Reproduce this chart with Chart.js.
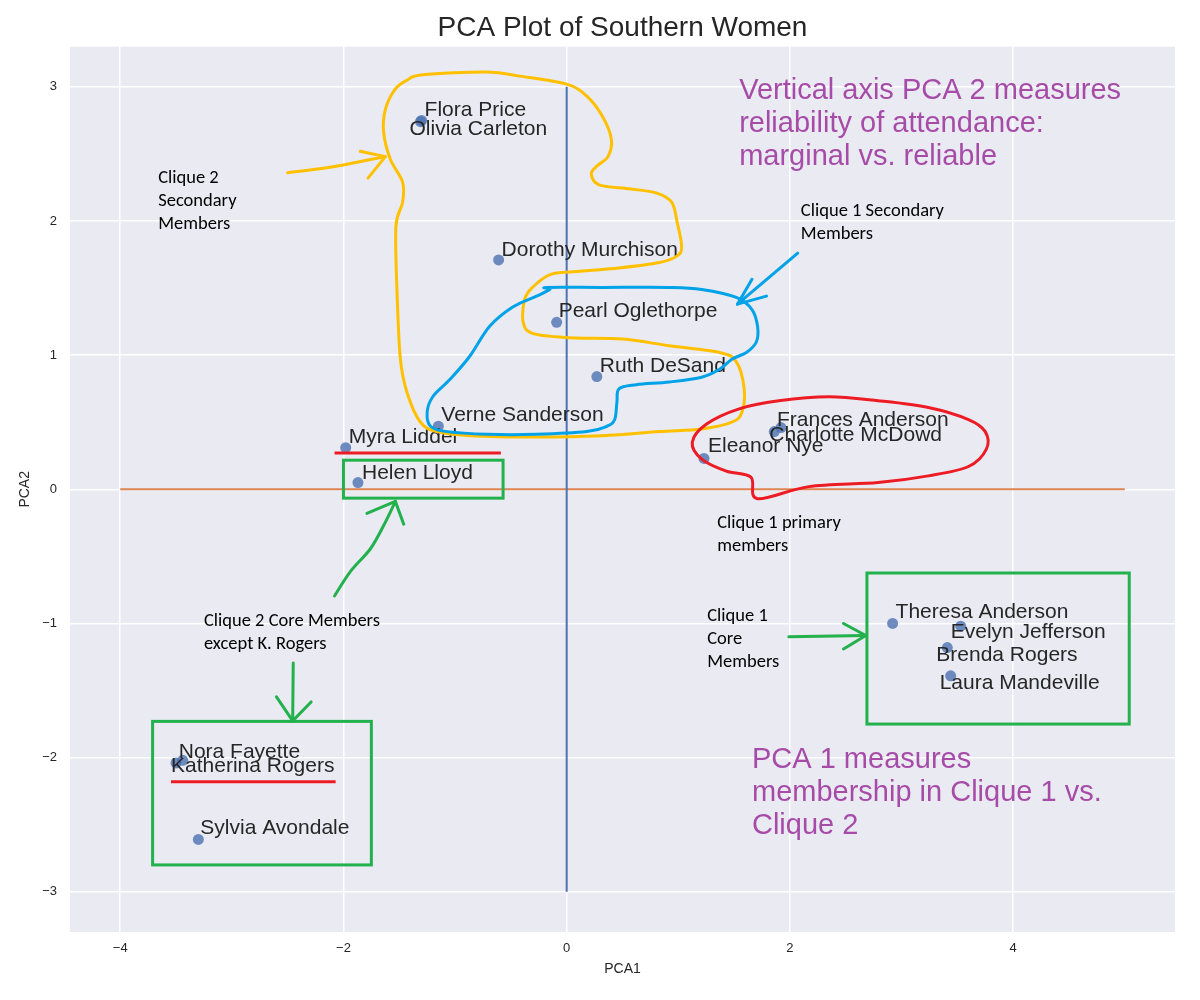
<!DOCTYPE html>
<html><head><meta charset="utf-8">
<script src="https://cdn.jsdelivr.net/npm/chart.js@4.4.1/dist/chart.umd.min.js"></script>
<style>html,body{margin:0;padding:0;background:#fff}</style>
</head><body>
<canvas id="c" width="1200" height="1000"></canvas>
<script>
// ---- data ----
const names = ["Evelyn Jefferson","Laura Mandeville","Theresa Anderson","Brenda Rogers","Charlotte McDowd","Frances Anderson","Eleanor Nye","Pearl Oglethorpe","Ruth DeSand","Verne Sanderson","Myra Liddel","Katherina Rogers","Sylvia Avondale","Nora Fayette","Helen Lloyd","Dorothy Murchison","Olivia Carleton","Flora Price"];
const pca1 = [3.53, 3.44, 2.92, 3.41, 1.86, 1.92, 1.23, -0.09, 0.27, -1.15, -1.98, -3.50, -3.30, -3.44, -1.87, -0.61, -1.31, -1.30];
const pca2 = [-1.02, -1.39, -1.00, -1.18, 0.43, 0.46, 0.23, 1.245, 0.84, 0.47, 0.31, -2.04, -2.61, -2.02, 0.05, 1.71, 2.74, 2.75];
// label nudges (px) as placed in the original figure
const labelDx = [-10, -11, 3, -11, -5, -4, 4, 2, 3, 3, 3, -5, 2, -4, 4, 3, -11, 3];
const labelDy = [12, 13, -5, 13, 9, -2, -6, -5, -5, -5, -5, 9, -5, -2, -4, -4, 13, -4];
const xTicks = [-4, -2, 0, 2, 4];
const yTicks = [-3, -2, -1, 0, 1, 2, 3];
const vLineX = [0, 0], vLineY = [-3, 3];
const hLineX = [-4, 5], hLineY = [0, 0];

// ---- hand-drawn annotations (data units) ----
const yellowLoop = [[-1.29,3.09],[-0.71,3.11],[-0.42,3.08],[0,3.02],[0.18,2.93],[0.32,2.78],[0.40,2.61],[0.37,2.48],[0.27,2.41],[0.22,2.35],[0.29,2.27],[0.56,2.24],[0.80,2.21],[0.94,2.14],[0.99,1.99],[1.03,1.81],[0.99,1.74],[0.83,1.69],[0.47,1.65],[0.03,1.62],[-0.15,1.60],[-0.30,1.51],[-0.375,1.42],[-0.39,1.245],[-0.30,1.16],[0.03,1.13],[0.50,1.12],[0.92,1.07],[1.37,1.02],[1.52,0.95],[1.59,0.75],[1.57,0.575],[1.48,0.50],[1.21,0.45],[0.83,0.43],[0.32,0.40],[-0.27,0.39],[-0.87,0.40],[-1.16,0.43],[-1.31,0.50],[-1.43,0.72],[-1.49,0.97],[-1.52,1.47],[-1.53,1.96],[-1.47,2.14],[-1.47,2.29],[-1.58,2.46],[-1.64,2.66],[-1.625,2.83],[-1.54,2.98],[-1.43,3.05]];
const yellowArrow = [[-2.5,2.36],[-2.12,2.40],[-1.625,2.48]];
const yellowHead = [[-1.85,2.52],[-1.625,2.48],[-1.78,2.32]];
const blueLoop = [[-0.18,1.505],[0.32,1.505],[0.92,1.505],[1.21,1.49],[1.52,1.43],[1.66,1.34],[1.71,1.215],[1.70,1.10],[1.61,1.02],[1.48,0.97],[1.37,0.895],[1.21,0.835],[0.92,0.80],[0.625,0.78],[0.47,0.75],[0.45,0.65],[0.43,0.52],[0.36,0.47],[0.18,0.43],[-0.27,0.41],[-0.71,0.41],[-1.07,0.43],[-1.22,0.47],[-1.25,0.575],[-1.20,0.69],[-1.045,0.82],[-0.87,0.99],[-0.69,1.215],[-0.48,1.36],[-0.27,1.44],[-0.15,1.49]];
const blueArrow = [[2.07,1.76],[1.53,1.38]];
const blueHead = [[1.66,1.565],[1.53,1.38],[1.79,1.44]];
const redLoop = [[2.17,0.02],[2.79,0.05],[3.24,0.10],[3.60,0.17],[3.76,0.30],[3.75,0.43],[3.60,0.52],[3.24,0.61],[2.79,0.66],[2.35,0.69],[1.90,0.66],[1.545,0.60],[1.25,0.485],[1.125,0.35],[1.21,0.225],[1.43,0.135],[1.65,0.09],[1.71,-0.07]];
const redUnder1 = [[-2.08,0.27],[-0.59,0.27]];
const redUnder2 = [[-3.545,-2.18],[-2.07,-2.18]];
const greenRects = [[-2.0,0.217,-0.57,-0.066],[2.69,-0.624,5.04,-1.75],[-3.71,-1.73,-1.75,-2.80]];
const greenLines = [
  [[1.99,-1.10],[2.68,-1.09]], [[2.48,-1.00],[2.68,-1.09],[2.48,-1.19]],
  [[-2.08,-0.795],[-1.94,-0.615],[-1.76,-0.445],[-1.64,-0.27],[-1.535,-0.09]], [[-1.79,-0.18],[-1.535,-0.09],[-1.46,-0.26]],
  [[-2.45,-1.295],[-2.455,-1.726]], [[-2.60,-1.547],[-2.455,-1.726],[-2.29,-1.585]]
];
const noteText = [["Clique 2","Secondary","Members"],["Clique 1 Secondary","Members"],["Clique 1 primary","members"],["Clique 1","Core","Members"],["Clique 2 Core Members","except K. Rogers"]];
const noteX = [-3.66, 2.098, 1.348, 1.259, -3.25];
const noteY = [2.28, 2.034, -0.289, -0.981, -1.019];
const bigText = [["Vertical axis PCA 2 measures","reliability of attendance:","marginal vs. reliable"],["PCA 1 measures","membership in Clique 1 vs.","Clique 2"]];
const bigX = [1.545, 1.66];
const bigY = [2.913, -2.076];

const TXT = '#262626';
const FAM = '"Liberation Sans", Arial, sans-serif';
const pts = names.map((n,i)=>({x:pca1[i], y:pca2[i]}));

function spline(ctx, P, closed){
  const n = P.length;
  const get = i => closed ? P[(i+n)%n] : P[Math.max(0,Math.min(n-1,i))];
  ctx.moveTo(P[0][0],P[0][1]);
  const segs = closed ? n : n-1;
  for(let i=0;i<segs;i++){
    const p0=get(i-1),p1=get(i),p2=get(i+1),p3=get(i+2);
    ctx.bezierCurveTo(p1[0]+(p2[0]-p0[0])/6, p1[1]+(p2[1]-p0[1])/6, p2[0]-(p3[0]-p1[0])/6, p2[1]-(p3[1]-p1[1])/6, p2[0], p2[1]);
  }
  if(closed) ctx.closePath();
}

const plug = {
  id:'deco',
  beforeDraw(chart){
    const {ctx, chartArea:a} = chart;
    ctx.save(); ctx.fillStyle='#EAEAF2'; ctx.fillRect(a.left,a.top,a.right-a.left,a.bottom-a.top); ctx.restore();
  },
  afterDatasetsDraw(chart){
    const ctx = chart.ctx, xs = chart.scales.x, ys = chart.scales.y;
    const X = v=>xs.getPixelForValue(v), Y = v=>ys.getPixelForValue(v);
    const map = arr => arr.map(p=>[X(p[0]),Y(p[1])]);
    ctx.save();
    // point labels
    ctx.font = '21px ' + FAM;
    ctx.fillStyle = TXT; ctx.textBaseline='alphabetic'; ctx.textAlign='left';
    names.forEach((n,i)=>{ ctx.fillText(n, X(pca1[i])+labelDx[i], Y(pca2[i])+labelDy[i]); });
    // shapes
    ctx.lineJoin='round'; ctx.lineCap='round'; ctx.lineWidth=3;
    const stroke=(col, arr, closed, smooth)=>{
      ctx.strokeStyle=col; ctx.beginPath();
      const P = map(arr);
      if(smooth) spline(ctx,P,closed); else { ctx.moveTo(P[0][0],P[0][1]); for(let k=1;k<P.length;k++) ctx.lineTo(P[k][0],P[k][1]); if(closed) ctx.closePath(); }
      ctx.stroke();
    };
    stroke('#FFC000', yellowLoop, true, true);
    stroke('#FFC000', yellowArrow, false, true);
    stroke('#FFC000', yellowHead, false, false);
    stroke('#00A2E8', blueLoop, true, true);
    stroke('#00A2E8', blueArrow, false, false);
    stroke('#00A2E8', blueHead, false, false);
    stroke('#ED1C24', redLoop, true, true);
    ctx.lineCap='butt';
    stroke('#ED1C24', redUnder1, false, false);
    stroke('#ED1C24', redUnder2, false, false);
    ctx.lineCap='round';
    greenRects.forEach(r=>{ ctx.strokeStyle='#22B14C'; ctx.lineJoin='miter'; ctx.strokeRect(X(r[0]),Y(r[1]),X(r[2])-X(r[0]),Y(r[3])-Y(r[1])); });
    ctx.lineJoin='round';
    greenLines.forEach((l,k)=>stroke('#22B14C', l, false, l.length>3));
    // notes
    ctx.fillStyle='#000'; ctx.font='18.5px Carlito, Lato, sans-serif';
    noteText.forEach((lines,i)=>lines.forEach((t,j)=>ctx.fillText(t, X(noteX[i]), Y(noteY[i])+j*23)));
    ctx.fillStyle='#A64CA8'; ctx.font='29px ' + FAM;
    bigText.forEach((lines,i)=>lines.forEach((t,j)=>ctx.fillText(t, X(bigX[i]), Y(bigY[i])+j*33)));
    ctx.restore();
  }
};

new Chart(document.getElementById('c'), {
  type:'scatter',
  data:{datasets:[
    {data:pts, backgroundColor:'rgba(76,114,176,0.8)', borderWidth:0, pointRadius:5.5, pointHoverRadius:5.5},
    {type:'line', data:vLineX.map((x,i)=>({x, y:vLineY[i]})), borderColor:'#4C72B0', borderWidth:2, pointRadius:0, showLine:true, fill:false},
    {type:'line', data:hLineX.map((x,i)=>({x, y:hLineY[i]})), borderColor:'#DD8452', borderWidth:2, pointRadius:0, showLine:true, fill:false}
  ]},
  options:{
    responsive:false, animation:false, devicePixelRatio:1,
    layout:{padding:{left:0,right:25,top:0,bottom:0}},
    plugins:{
      legend:{display:false}, tooltip:{enabled:false},
      title:{display:true, text:'PCA Plot of Southern Women', fullSize:false, color:TXT, font:{family:FAM, size:28, weight:'normal'}, padding:{top:11,bottom:2}}
    },
    scales:{
      x:{type:'linear', min:-4.45, max:5.45,
        afterBuildTicks:s=>{s.ticks = xTicks.map(v=>({value:v}));},
        afterFit:s=>{s.height=68;},
        grid:{color:'#FFFFFF', lineWidth:1.5, drawTicks:false}, border:{display:false},
        ticks:{color:TXT, padding:9, font:{family:FAM, size:13}, callback:v=>String(v).replace('-','\u2212')},
        title:{display:true, text:'PCA1', color:TXT, font:{family:FAM, size:14}, padding:{top:0,bottom:22}}},
      y:{type:'linear', min:-3.3, max:3.3,
        afterBuildTicks:s=>{s.ticks = yTicks.map(v=>({value:v}));},
        afterFit:s=>{s.width=70;},
        grid:{color:'#FFFFFF', lineWidth:1.5, drawTicks:false}, border:{display:false},
        ticks:{color:TXT, padding:13, font:{family:FAM, size:13}, callback:v=>String(v).replace('-','\u2212')},
        title:{display:true, text:'PCA2', color:TXT, font:{family:FAM, size:14}, padding:{top:17,bottom:0}}}
    }
  },
  plugins:[plug]
});
</script>
</body></html>
